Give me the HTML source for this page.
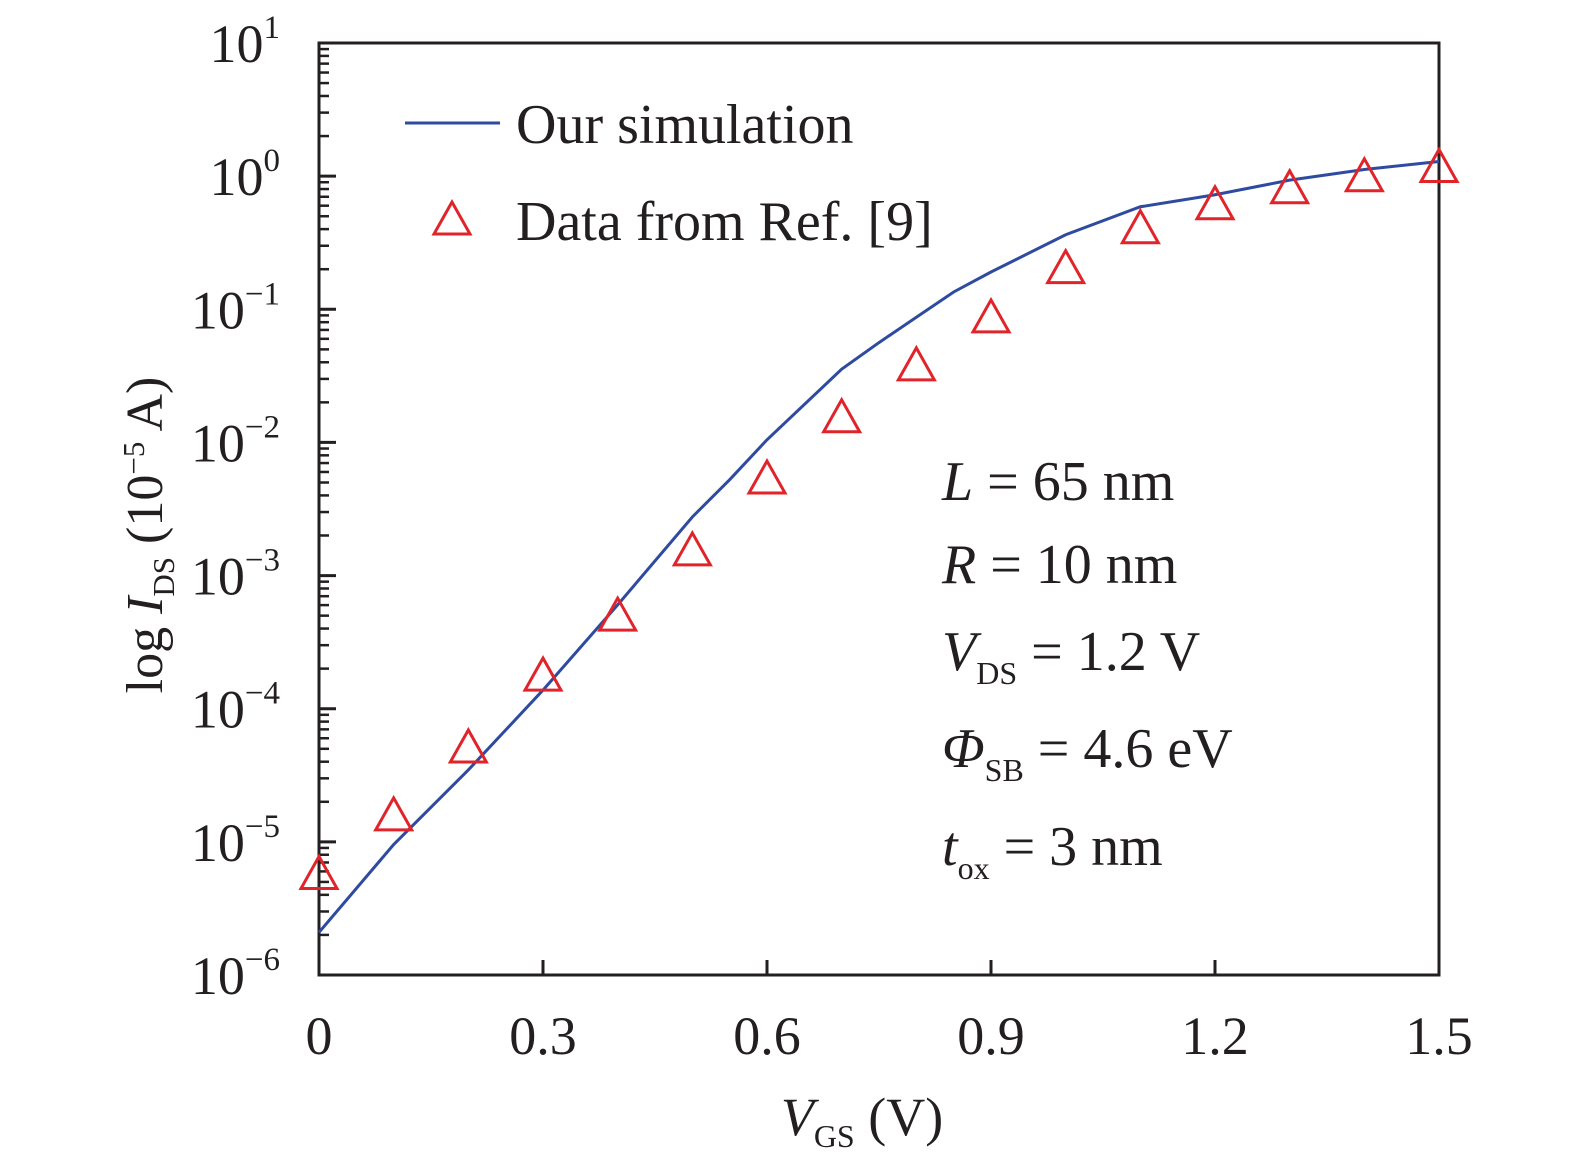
<!DOCTYPE html>
<html><head><meta charset="utf-8"><style>
body{margin:0;background:#fff}
svg{display:block;font-family:"Liberation Serif",serif}
</style></head><body>
<svg id="c" width="1575" height="1165" viewBox="0 0 1575 1165">
<g id="ticks"></g>
<rect x="319" y="43" width="1120" height="932" fill="none" stroke="#231f20" stroke-width="3"/>
<g id="marks"></g>
<g>
<line x1="405" y1="123" x2="500" y2="123" stroke="#2e4b9f" stroke-width="3"/>
<text x="516" y="143" font-size="56" fill="#231f20">Our simulation</text>
<polygon points="452,202 434,234 470,234" fill="none" stroke="#e1242a" stroke-width="3"/>
<text x="516" y="240" font-size="56" fill="#231f20">Data from Ref. [9]</text>
</g>
<g font-size="56" fill="#231f20">
<text x="942" y="500"><tspan font-style="italic">L</tspan> = 65 nm</text>
<text x="942" y="583"><tspan font-style="italic">R</tspan> = 10 nm</text>
<text x="942" y="670"><tspan font-style="italic">V</tspan><tspan font-size="32" dy="14">DS</tspan><tspan dy="-14"> = 1.2 V</tspan></text>
<text x="942" y="767"><tspan font-style="italic">Φ</tspan><tspan font-size="32" dy="14">SB</tspan><tspan dy="-14"> = 4.6 eV</tspan></text>
<text x="942" y="865"><tspan font-style="italic">t</tspan><tspan font-size="32" dy="14">ox</tspan><tspan dy="-14"> = 3 nm</tspan></text>
</g>
<text x="862" y="1135" font-size="54" text-anchor="middle" fill="#231f20"><tspan font-style="italic">V</tspan><tspan font-size="32" dy="12">GS</tspan><tspan dy="-12"> (V)</tspan></text>
<text transform="translate(162,535) rotate(-90)" font-size="52" text-anchor="middle" fill="#231f20">log <tspan font-style="italic">I</tspan><tspan font-size="31" dy="12">DS</tspan><tspan dy="-12"> (10</tspan><tspan font-size="31" dy="-18">−5</tspan><tspan dy="18"> A)</tspan></text>
</svg>
<script>
const xTicks=[0,0.3,0.6,0.9,1.2,1.5];
const xTickLabels=["0","0.3","0.6","0.9","1.2","1.5"];
const yDecades=[-6,-5,-4,-3,-2,-1,0,1];
const yTickExp=["−6","−5","−4","−3","−2","−1","0","1"];
const dataV=[0,0.1,0.2,0.3,0.4,0.5,0.6,0.7,0.8,0.9,1.0,1.1,1.2,1.3,1.4,1.5];
const dataLogI=[-5.26,-4.82,-4.31,-3.77,-3.32,-2.83,-2.29,-1.83,-1.44,-1.08,-0.71,-0.41,-0.23,-0.11,-0.02,0.05];
const simV=[0,0.1,0.2,0.3,0.4,0.5,0.55,0.6,0.7,0.75,0.8,0.85,0.9,1.0,1.1,1.2,1.3,1.4,1.5];
const simLogI=[-5.68,-5.02,-4.46,-3.86,-3.22,-2.56,-2.28,-1.98,-1.45,-1.25,-1.06,-0.87,-0.72,-0.44,-0.23,-0.14,-0.03,0.05,0.11];
const NS='http://www.w3.org/2000/svg';
const X=v=>319+v/1.5*1120;
const Y=l=>975-(l+6)/7*932;
function mk(t,a,p){const e=document.createElementNS(NS,t);for(const k in a)e.setAttribute(k,a[k]);p.appendChild(e);return e;}
const tg=document.getElementById('ticks'),mg=document.getElementById('marks');
xTicks.forEach((v,i)=>{
 const t=mk('line',{x1:X(v),x2:X(v),y1:975,y2:960,stroke:'#231f20','stroke-width':3},tg);
 
 
 const l=mk('text',{x:X(v),y:1054,'font-size':54,'text-anchor':'middle',fill:'#231f20'},tg);
 l.textContent=xTickLabels[i];
 
 
});
yDecades.forEach((d,i)=>{
 const y=Y(d);
 if(i>0&&i<yDecades.length-1){const t=mk('line',{x1:319,x2:336,y1:y,y2:y,stroke:'#231f20','stroke-width':3},tg);
 
 }
 if(i<yDecades.length-1){for(let m=2;m<=9;m++){const ym=Y(d+Math.log10(m));const t=mk('line',{x1:319,x2:329,y1:ym,y2:ym,stroke:'#231f20','stroke-width':2.5},tg);
 
 }}
 const l=mk('text',{x:280,y:y+19,'font-size':54,'text-anchor':'end',fill:'#231f20'},tg);
 l.innerHTML='10<tspan font-size="33" dy="-24">'+yTickExp[i]+'</tspan>';
 
 
});
const pts=simV.map((v,i)=>X(v)+','+Y(simLogI[i])).join(' ');
const line=mk('polyline',{points:pts,fill:'none',stroke:'#2e4b9f','stroke-width':3},mg);


dataV.forEach((v,i)=>{
 const cx=X(v),cy=Y(dataLogI[i]);
 const p=mk('polygon',{points:`${cx},${cy-20} ${cx-18},${cy+12} ${cx+18},${cy+12}`,fill:'none',stroke:'#e1242a','stroke-width':3},mg);
 
 
});
</script>
</body></html>
